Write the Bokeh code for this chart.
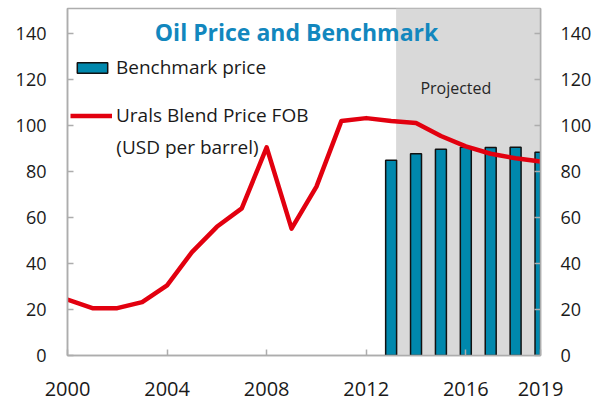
from bokeh.plotting import figure
from bokeh.models import (Range1d, LinearAxis, FixedTicker, BoxAnnotation, Label,
                          Legend, LegendItem, ColumnDataSource)
from bokeh.embed import file_html
from bokeh.resources import INLINE

# ---- data ----
years = list(range(2000, 2020))
urals = [24.3, 20.6, 20.6, 23.2, 30.5, 45.0, 56.0, 64.0, 90.6, 55.2, 73.5,
         102.0, 103.3, 102.0, 101.2, 95.5, 91.0, 87.8, 85.8, 84.4]
bench_years = [2013, 2014, 2015, 2016, 2017, 2018, 2019]
bench = [85.0, 87.8, 89.8, 90.6, 90.5, 90.6, 88.5]
projected_start = 2013.2
x_ticks = [2000, 2004, 2008, 2012, 2016, 2019]
y_ticks = [0, 20, 40, 60, 80, 100, 120, 140]

title_text = "Oil Price and Benchmark"
bench_label = "Benchmark price"
urals_label_1 = "Urals Blend Price FOB"
urals_label_2 = "(USD per barrel)"
proj_label = "Projected"

FONT = "Open Sans"
AXIS_GREY = "#ADADAD"
TXT = "#1a1a1a"

p = figure(width=605, height=406, x_range=Range1d(2000, 2019), y_range=Range1d(0, 151),
           output_backend="svg", toolbar_location=None,
           min_border_left=67, min_border_right=65, min_border_top=8, min_border_bottom=51)
p.xgrid.visible = False
p.ygrid.visible = False
p.outline_line_color = AXIS_GREY
p.outline_line_width = 1.5
p.background_fill_color = "white"

# projected shading
p.add_layout(BoxAnnotation(left=projected_start, fill_color="#D9D9D9", fill_alpha=1.0,
                           line_alpha=0, level="underlay"))

src_b = ColumnDataSource(dict(x=bench_years, top=bench))
bars = p.vbar(x="x", top="top", width=0.44, bottom=0, source=src_b,
              fill_color="#0088AD", line_color="#111111", line_width=1.5)
src_u = ColumnDataSource(dict(x=years, y=urals))
line = p.line(x="x", y="y", source=src_u, line_color="#E2000F", line_width=4.5,
              line_join="round")

def style_axis(ax, size="18px", standoff=20):
    ax.axis_line_color = AXIS_GREY
    ax.axis_line_width = 1.5
    ax.major_tick_line_color = AXIS_GREY
    ax.major_tick_line_width = 1.5
    ax.major_tick_in = 6
    ax.major_tick_out = 0
    ax.minor_tick_line_color = None
    ax.major_label_text_font = FONT
    ax.major_label_text_font_size = size
    ax.major_label_text_color = TXT
    ax.major_label_standoff = standoff

p.yaxis.ticker = FixedTicker(ticks=y_ticks)
style_axis(p.yaxis[0], "18px", 21)
right = LinearAxis(ticker=FixedTicker(ticks=y_ticks))
style_axis(right, "18px", 20)
p.add_layout(right, "right")
p.xaxis.ticker = FixedTicker(ticks=x_ticks)
style_axis(p.xaxis[0], "20px", 26)

# title inside the plot
p.add_layout(Label(x=2009.2, y=140.8, text=title_text, text_font=FONT, text_font_style="bold",
                   text_font_size="23px", text_color="#1287BE", text_align="center",
                   text_baseline="middle"))
p.add_layout(Label(x=2015.6, y=116.5, text=proj_label, text_font=FONT,
                   text_font_size="16px", text_color="#262626", text_align="center",
                   text_baseline="middle"))
p.add_layout(Label(x=2001.96, y=90.9, text=urals_label_2, text_font=FONT,
                   text_font_size="19px", text_color=TXT, text_align="left",
                   text_baseline="middle"))

def make_legend(item, loc, gw, gh, standoff):
    lg = Legend(items=[item], location=loc, padding=0, margin=0, spacing=0,
                glyph_width=gw, glyph_height=gh, label_standoff=standoff,
                label_height=13, background_fill_alpha=0, border_line_alpha=0,
                label_text_font=FONT, label_text_font_size="19px", label_text_color=TXT)
    return lg

p.add_layout(make_legend(LegendItem(label=bench_label, renderers=[bars]), (6, 275), 38, 13, 5))
p.add_layout(make_legend(LegendItem(label=urals_label_1, renderers=[line]), (3, 227), 42, 13, 4))

open("out.html", "w").write(file_html(p, INLINE))
